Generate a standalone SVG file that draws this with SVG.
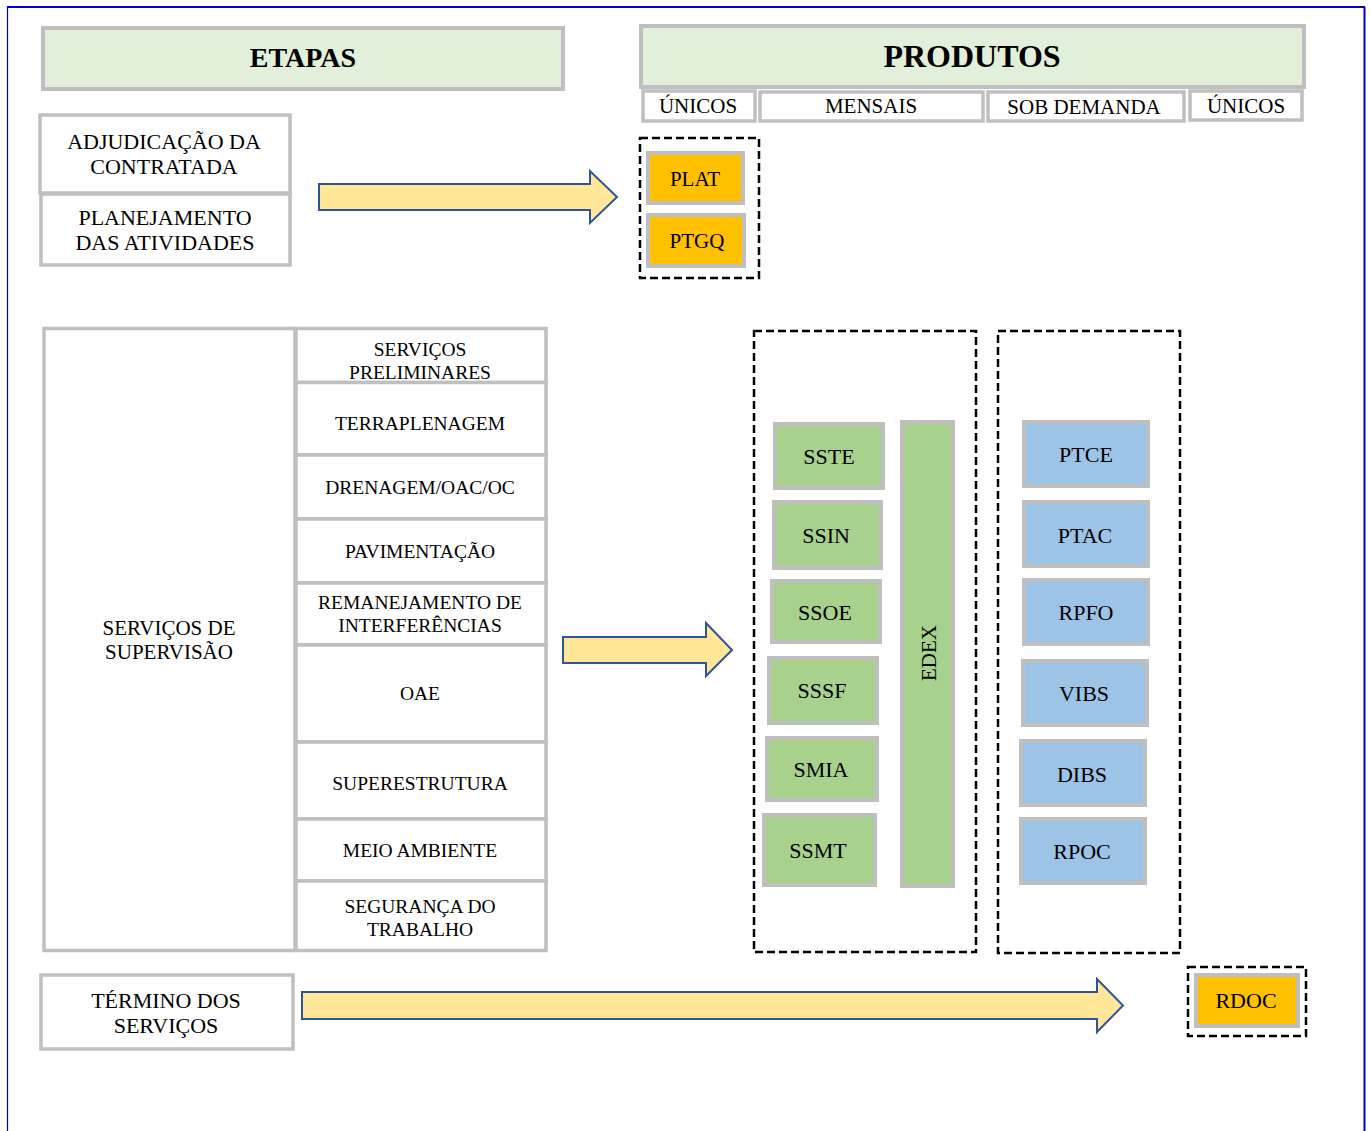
<svg xmlns="http://www.w3.org/2000/svg" width="1370" height="1131" viewBox="0 0 1370 1131">
<style>
text{font-family:"Liberation Serif","Times New Roman",serif;fill:#000;text-anchor:middle}
.hdr{fill:#E2EFDA;stroke:#BFBFBF;stroke-width:4}
.cell{fill:#FFFFFF;stroke:#BFBFBF;stroke-width:3.5}
.org{fill:#FFC000;stroke:#BFBFBF;stroke-width:4}
.grn{fill:#A9D18E;stroke:#BFBFBF;stroke-width:4}
.blu{fill:#9DC3E6;stroke:#BFBFBF;stroke-width:4}
.dash{fill:none;stroke:#000;stroke-width:2.5;stroke-dasharray:8 4}
.arrow{fill:#FFE699;stroke:#2F5597;stroke-width:2}
.t22{font-size:22px}
.t21{font-size:21px}
.t19{font-size:19.5px}
</style>
<rect width="1370" height="1131" fill="#FFFFFF"/>
<g id="frame" fill="none" stroke="#0000CC">
<line x1="7" y1="7" x2="1365" y2="7" stroke-width="2"/>
<line x1="7.5" y1="7" x2="7.5" y2="1131" stroke-width="1.2"/>
<line x1="1364.5" y1="7" x2="1364.5" y2="1131" stroke-width="2"/>
</g>

<g id="etapas">
<rect class="hdr" x="43" y="28" width="520" height="61"/>
<text x="303" y="67" font-size="28" font-weight="bold">ETAPAS</text>
</g>
<g id="produtos">
<rect class="hdr" x="641" y="26" width="663" height="61"/>
<text x="972" y="67" font-size="32" font-weight="bold">PRODUTOS</text>
</g>
<g id="unicos1"><rect class="cell" x="643" y="91" width="112" height="30"/><text class="t21" x="698" y="113">ÚNICOS</text></g>
<g id="mensais"><rect class="cell" x="760" y="92" width="223" height="29"/><text class="t21" x="871" y="113">MENSAIS</text></g>
<g id="sobdemanda"><rect class="cell" x="988" y="92" width="196" height="29"/><text class="t21" x="1084" y="114">SOB DEMANDA</text></g>
<g id="unicos2"><rect class="cell" x="1190" y="91" width="112" height="29"/><text class="t21" x="1246" y="113">ÚNICOS</text></g>

<g id="adjudicacao">
<rect class="cell" x="40" y="115" width="250" height="78"/>
<text class="t22" x="164" y="148.5">ADJUDICAÇÃO DA</text>
<text class="t22" x="164" y="173.5">CONTRATADA</text>
</g>
<g id="planejamento">
<rect class="cell" x="41" y="194" width="249" height="71"/>
<text class="t22" x="165" y="224.5">PLANEJAMENTO</text>
<text class="t22" x="165" y="249.5">DAS ATIVIDADES</text>
</g>

<g id="grupo-unicos"><rect class="dash" x="640" y="138" width="119" height="140"/></g>
<g id="plat"><rect class="org" x="648" y="153" width="95" height="50"/><text class="t21" x="695" y="185.5">PLAT</text></g>
<g id="ptgq"><rect class="org" x="648" y="215" width="96" height="51"/><text class="t21" x="697" y="248">PTGQ</text></g>

<g id="supervisao">
<rect class="cell" x="44" y="328.5" width="251" height="622"/>
<text class="t21" x="169" y="635">SERVIÇOS  DE</text>
<text class="t21" x="169" y="659">SUPERVISÃO</text>
</g>
<g id="preliminares"><rect class="cell" x="296" y="328.5" width="250" height="54"/><text class="t19" x="420" y="356">SERVIÇOS</text><text class="t19" x="420" y="378.5">PRELIMINARES</text></g>
<g id="terraplenagem"><rect class="cell" x="296" y="382.5" width="250" height="72.5"/><text class="t19" x="420" y="429.5">TERRAPLENAGEM</text></g>
<g id="drenagem"><rect class="cell" x="296" y="455" width="250" height="64"/><text class="t19" x="420" y="493.5">DRENAGEM/OAC/OC</text></g>
<g id="pavimentacao"><rect class="cell" x="296" y="519" width="250" height="64"/><text class="t19" x="420" y="557.5">PAVIMENTAÇÃO</text></g>
<g id="remanejamento"><rect class="cell" x="296" y="583" width="250" height="62"/><text class="t19" x="420" y="608.5">REMANEJAMENTO  DE</text><text class="t19" x="420" y="631.5">INTERFERÊNCIAS</text></g>
<g id="oae"><rect class="cell" x="296" y="645" width="250" height="97"/><text class="t19" x="420" y="699.5">OAE</text></g>
<g id="superestrutura"><rect class="cell" x="296" y="742" width="250" height="77"/><text class="t19" x="420" y="789.5">SUPERESTRUTURA</text></g>
<g id="meioambiente"><rect class="cell" x="296" y="819" width="250" height="62"/><text class="t19" x="420" y="856.5">MEIO  AMBIENTE</text></g>
<g id="seguranca"><rect class="cell" x="296" y="881" width="250" height="69.5"/><text class="t19" x="420" y="912.5">SEGURANÇA  DO</text><text class="t19" x="420" y="935.5">TRABALHO</text></g>

<g id="grupo-mensais"><rect class="dash" x="754" y="331" width="222" height="621"/></g>
<g id="sste"><rect class="grn" x="775" y="424" width="108" height="64"/><text class="t22" x="829" y="464">SSTE</text></g>
<g id="ssin"><rect class="grn" x="774" y="502" width="107" height="66"/><text class="t22" x="826" y="543">SSIN</text></g>
<g id="ssoe"><rect class="grn" x="772" y="581" width="108" height="61"/><text class="t22" x="825" y="620">SSOE</text></g>
<g id="sssf"><rect class="grn" x="769" y="658" width="108" height="65"/><text class="t22" x="822" y="698">SSSF</text></g>
<g id="smia"><rect class="grn" x="767" y="738" width="110" height="62"/><text class="t22" x="821" y="777">SMIA</text></g>
<g id="ssmt"><rect class="grn" x="764" y="815" width="111" height="70"/><text class="t22" x="818" y="858">SSMT</text></g>
<g id="edex"><rect class="grn" x="902" y="422" width="51" height="464"/><text class="t21" x="0" y="0" transform="translate(935.5 653) rotate(-90)">EDEX</text></g>

<g id="grupo-demanda"><rect class="dash" x="998" y="331" width="182" height="622"/></g>
<g id="ptce"><rect class="blu" x="1024" y="422" width="124" height="64"/><text class="t22" x="1086" y="462">PTCE</text></g>
<g id="ptac"><rect class="blu" x="1024" y="502" width="124" height="64"/><text class="t22" x="1085" y="543">PTAC</text></g>
<g id="rpfo"><rect class="blu" x="1024" y="580" width="124" height="64"/><text class="t22" x="1086" y="620">RPFO</text></g>
<g id="vibs"><rect class="blu" x="1023" y="661" width="124" height="64"/><text class="t22" x="1084" y="701">VIBS</text></g>
<g id="dibs"><rect class="blu" x="1021" y="741" width="124" height="64"/><text class="t22" x="1082" y="782">DIBS</text></g>
<g id="rpoc"><rect class="blu" x="1021" y="819" width="124" height="64"/><text class="t22" x="1082" y="859">RPOC</text></g>

<g id="termino">
<rect class="cell" x="41" y="975" width="252" height="74"/>
<text class="t22" x="166" y="1008">TÉRMINO DOS</text>
<text class="t22" x="166" y="1033">SERVIÇOS</text>
</g>
<g id="grupo-final"><rect class="dash" x="1188" y="967" width="118" height="69"/></g>
<g id="rdoc"><rect class="org" x="1196" y="975" width="102" height="51"/><text class="t22" x="1246" y="1008">RDOC</text></g>

<g id="connectors">
<polygon class="arrow" points="319,184 590,184 590,171 617,197 590,223 590,210 319,210"/>
<polygon class="arrow" points="563,637 706,637 706,623 732,650 706,676 706,663 563,663"/>
<polygon class="arrow" points="302,992 1097,992 1097,979 1123,1005.5 1097,1032 1097,1019 302,1019"/>
</g>
</svg>
